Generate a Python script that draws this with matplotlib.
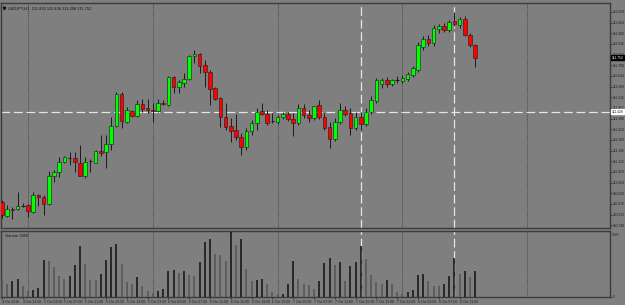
import numpy as np
import pandas as pd
import matplotlib as mpl
mpl.use('Agg')
import matplotlib.pyplot as plt
import matplotlib.transforms as mtrans

plt.rcParams['font.family'] = ['Liberation Sans', 'DejaVu Sans']

# USDJPY H1 candles
opens = [110.888, 110.804, 110.846, 110.846, 110.864, 110.870, 110.828, 110.927, 110.918, 110.876,
         111.044, 111.068, 111.128, 111.152, 111.154, 111.122, 111.044, 111.131, 111.122, 111.194,
         111.188, 111.236, 111.344, 111.536, 111.368, 111.434, 111.404, 111.476, 111.452, 111.440,
         111.434, 111.482, 111.470, 111.638, 111.578, 111.602, 111.626, 111.764, 111.776, 111.710,
         111.668, 111.572, 111.512, 111.398, 111.344, 111.320, 111.278, 111.218, 111.314, 111.362,
         111.434, 111.416, 111.374, 111.368, 111.398, 111.416, 111.386, 111.362, 111.452, 111.410,
         111.392, 111.470, 111.398, 111.338, 111.266, 111.368, 111.440, 111.422, 111.332, 111.398,
         111.356, 111.428, 111.494, 111.596, 111.620, 111.596, 111.620, 111.614, 111.626, 111.650,
         111.680, 111.818, 111.866, 111.842, 111.926, 111.944, 111.920, 111.974, 111.950, 111.986,
         111.890, 111.830]
highs = [110.900, 110.870, 110.858, 110.948, 110.882, 110.876, 110.948, 110.936, 110.930, 111.074,
         111.080, 111.158, 111.164, 111.188, 111.188, 111.230, 111.158, 111.146, 111.200, 111.290,
         111.290, 111.398, 111.548, 111.548, 111.458, 111.440, 111.500, 111.506, 111.506, 111.482,
         111.506, 111.500, 111.644, 111.644, 111.620, 111.662, 111.770, 111.800, 111.782, 111.740,
         111.680, 111.578, 111.518, 111.482, 111.392, 111.416, 111.302, 111.332, 111.380, 111.452,
         111.482, 111.440, 111.422, 111.410, 111.428, 111.428, 111.422, 111.476, 111.476, 111.440,
         111.464, 111.500, 111.422, 111.368, 111.392, 111.482, 111.464, 111.452, 111.428, 111.428,
         111.452, 111.524, 111.632, 111.632, 111.638, 111.626, 111.644, 111.650, 111.668, 111.704,
         111.848, 111.884, 111.890, 111.950, 111.956, 111.962, 111.980, 112.028, 111.998, 112.004,
         111.902, 111.836]
lows = [110.792, 110.798, 110.786, 110.840, 110.858, 110.798, 110.822, 110.864, 110.810, 110.870,
        111.008, 111.038, 111.122, 111.110, 111.068, 111.044, 111.032, 111.068, 111.122, 111.164,
        111.092, 111.200, 111.338, 111.332, 111.362, 111.398, 111.398, 111.428, 111.422, 111.368,
        111.428, 111.470, 111.464, 111.542, 111.542, 111.578, 111.620, 111.722, 111.662, 111.578,
        111.470, 111.500, 111.338, 111.320, 111.248, 111.260, 111.170, 111.200, 111.290, 111.320,
        111.410, 111.350, 111.362, 111.356, 111.386, 111.374, 111.284, 111.350, 111.392, 111.368,
        111.380, 111.386, 111.320, 111.212, 111.254, 111.356, 111.404, 111.290, 111.320, 111.320,
        111.344, 111.416, 111.482, 111.572, 111.578, 111.584, 111.602, 111.602, 111.614, 111.638,
        111.668, 111.800, 111.824, 111.824, 111.902, 111.908, 111.908, 111.944, 111.932, 111.884,
        111.818, 111.698]
closes = [110.810, 110.846, 110.840, 110.864, 110.864, 110.834, 110.930, 110.915, 110.876, 111.044,
          111.068, 111.128, 111.158, 111.152, 111.128, 111.044, 111.128, 111.131, 111.194, 111.182,
          111.236, 111.344, 111.536, 111.374, 111.440, 111.404, 111.476, 111.446, 111.440, 111.431,
          111.482, 111.473, 111.638, 111.578, 111.608, 111.626, 111.764, 111.776, 111.704, 111.668,
          111.566, 111.506, 111.398, 111.338, 111.314, 111.278, 111.218, 111.314, 111.362, 111.428,
          111.416, 111.362, 111.374, 111.398, 111.416, 111.386, 111.362, 111.452, 111.410, 111.392,
          111.464, 111.398, 111.332, 111.266, 111.368, 111.440, 111.416, 111.332, 111.398, 111.356,
          111.428, 111.500, 111.620, 111.620, 111.596, 111.620, 111.620, 111.632, 111.656, 111.692,
          111.830, 111.866, 111.842, 111.932, 111.944, 111.920, 111.968, 111.956, 111.986, 111.890,
          111.830, 111.752]
volumes = [2080, 1540, 1890, 2090, 1240, 730, 775, 1080, 4250, 4200,
           3440, 2400, 2120, 2400, 3740, 5870, 3790, 2000, 1990, 2700,
           4250, 5790, 6140, 3820, 1740, 1540, 2350, 1240, 660, 460,
           660, 960, 3050, 3130, 2780, 2980, 2510, 2400, 4050, 6290,
           6720, 4980, 4780, 4130, 7526, 5990, 6640, 3240, 1890, 2000,
           2080, 1540, 580, 350, 380, 1540, 4170, 2120, 1540, 1420,
           930, 1890, 3860, 4520, 3740, 4020, 1820, 3620, 4020, 5870,
           4320, 2580, 1700, 1470, 2000, 1540, 540, 380, 540, 850,
           2580, 2660, 1820, 1310, 1310, 1540, 2470, 4520, 2660, 3050,
           2350, 3050]

start_time = '2016-10-04 19:00'
hline_price = 111.428      # white dashed horizontal level
vline_bars = [69, 87]      # white dashed vertical lines (bar index)

o = np.array(opens); h = np.array(highs); l = np.array(lows); c = np.array(closes)
v = np.array(volumes)
n = len(o)
x = np.arange(n)
times = pd.date_range(start_time, periods=n, freq='h')

bg = '#7f7f7f'
frame = '#3c3c3c'
txt = '#1e1e1e'
W, H = 625, 305
fig = plt.figure(figsize=(W/100, H/100), dpi=100, facecolor=bg)

bar_px = 5.2
xmin = -1/bar_px
xmax = xmin + 609/bar_px
ymin, ymax = 110.732, 112.082

ax = fig.add_axes([1/W, 1-228/H, 609/W, 225/H], facecolor=bg)
axv = fig.add_axes([1/W, 1-297/H, 609/W, 66/H], facecolor=bg, sharex=ax)

# day separators (dotted)
day0 = int(np.argmax(times.hour == 0))
for d in np.arange(day0, xmax, 24):
    for a in (ax, axv):
        a.axvline(d, color='#333333', ls=(0, (1, 1.5)), lw=0.6, zorder=1)

# candles
for i in range(n):
    ax.vlines(x[i], l[i], h[i], color='#1a1a1a', lw=0.7, zorder=3)
    if abs(c[i] - o[i]) < 1e-9:
        ax.hlines(o[i], x[i]-0.35, x[i]+0.35, color='#1a1a1a', lw=0.8, zorder=4)
    else:
        col = '#00ff00' if c[i] > o[i] else '#ff0000'
        ax.bar(x[i], abs(c[i]-o[i]), bottom=min(o[i], c[i]), width=0.7,
               color=col, edgecolor='#1a1a1a', lw=0.4, zorder=4)

# white dashed lines
ax.axhline(hline_price, color='#e6e6e6', ls=(0, (7, 3)), lw=0.9, zorder=2)
for b in vline_bars:
    for a in (ax, axv):
        a.axvline(b, color='#e6e6e6', ls=(0, (7, 3)), lw=0.9, zorder=2)

# volumes: black when volume grew, grey otherwise
vcol = ['#111111' if i > 0 and v[i] > v[i-1] else '#555555' for i in range(n)]
vcol[0] = '#555555'
axv.vlines(x, 0, v, colors=vcol, lw=1.1, zorder=3)

ax.set_xlim(xmin, xmax)
ax.set_ylim(ymin, ymax)
axv.set_ylim(0, v.max()*1.01)

fs = 2.4
# price axis
step = 0.064
top_tick = 112.028
ticks = top_tick - step*np.arange(21)
ax.yaxis.tick_right()
ax.set_yticks(ticks)
ax.set_yticklabels(['%.3f' % t for t in ticks])
ax.tick_params(axis='y', labelsize=fs, length=1.2, width=0.5, pad=0.6,
               colors=txt)
axv.yaxis.tick_right()
axv.set_yticks([0])
axv.set_yticklabels(['0'])
axv.tick_params(axis='y', labelsize=fs, length=1.2, width=0.5, pad=0.6,
                colors=txt)
axv.text(1.003, 0.97, '%d' % v.max(), transform=axv.transAxes, fontsize=fs,
         color=txt, va='top', ha='left')

# time axis
lab_idx = np.arange(0, n, 4)
labels = []
for k, i in enumerate(lab_idx):
    t = times[i]
    if k == 0:
        labels.append('%d %s %d' % (t.day, t.strftime('%b'), t.year))
    else:
        labels.append('%d %s %s' % (t.day, t.strftime('%b'), t.strftime('%H:%M')))
axv.set_xticks(lab_idx)
axv.set_xticklabels(labels)
axv.tick_params(axis='x', labelsize=2.5, length=1.5, width=0.5, pad=1,
                colors=txt)
for lb in axv.get_xticklabels():
    lb.set_ha('left')
ax.tick_params(axis='x', bottom=False, labelbottom=False)

for a in (ax, axv):
    for s in a.spines.values():
        s.set_color(frame)
        s.set_linewidth(1.0)

# price boxes on the axis
blend = mtrans.blended_transform_factory(ax.transAxes, ax.transData)
ax.text(1.003, c[-1], '%.3f' % c[-1], transform=blend, fontsize=fs,
        color='white', va='center', ha='left',
        bbox=dict(boxstyle='square,pad=0.15', fc='black', ec='black'))
ax.text(1.003, hline_price, '%.3f' % hline_price, transform=blend, fontsize=fs,
        color=txt, va='center', ha='left',
        bbox=dict(boxstyle='square,pad=0.15', fc='white', ec='white'))

# headers
ax.text(0.012, 0.985, 'USDJPY,H1  %.3f %.3f %.3f %.3f' % (o[-1], h[-1], l[-1], c[-1]),
        transform=ax.transAxes, fontsize=2.9, color='#111111', va='top', ha='left')
ax.plot([0.005], [0.978], transform=ax.transAxes, marker='v', ms=1.8,
        color='#111111', clip_on=False)
axv.text(0.006, 0.96, 'Volume %d' % v[-1], transform=axv.transAxes,
         fontsize=2.9, color='#111111', va='top', ha='left')

fig.savefig('out.png', dpi=100, facecolor=bg)
